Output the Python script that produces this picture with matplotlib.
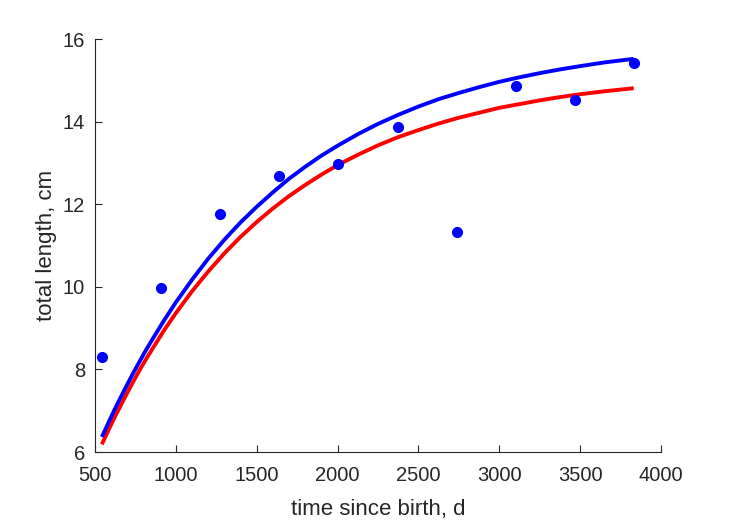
import matplotlib.pyplot as plt

plt.rcParams['font.family'] = ['Liberation Sans', 'DejaVu Sans']

# observed lengths
age_days = [543, 909, 1274, 1640, 2006, 2371, 2737, 3102, 3468, 3833]
length_cm = [8.30, 9.97, 11.76, 12.68, 12.97, 13.87, 11.33, 14.86, 14.52, 15.42]

# fitted growth curves
curve_t = [549, 587, 625, 662, 700, 737, 775, 812, 850, 925, 1000, 1100,
           1200, 1300, 1400, 1500, 1600, 1700, 1800, 1900, 2000, 2125, 2250,
           2375, 2500, 2625, 2750, 2875, 3000, 3125, 3250, 3375, 3500, 3650,
           3818]
fit_blue = [6.41, 6.73, 7.05, 7.34, 7.63, 7.91, 8.18, 8.44, 8.69, 9.17, 9.62,
            10.17, 10.68, 11.14, 11.56, 11.94, 12.29, 12.62, 12.91, 13.18,
            13.42, 13.70, 13.95, 14.17, 14.37, 14.55, 14.70, 14.84, 14.97,
            15.08, 15.18, 15.27, 15.35, 15.44, 15.52]
fit_red = [6.23, 6.55, 6.86, 7.14, 7.43, 7.70, 7.97, 8.22, 8.46, 8.93, 9.36,
           9.89, 10.37, 10.81, 11.21, 11.57, 11.90, 12.20, 12.47, 12.72,
           12.95, 13.20, 13.43, 13.63, 13.80, 13.96, 14.10, 14.22, 14.34,
           14.43, 14.52, 14.60, 14.67, 14.74, 14.81]

fig = plt.figure(figsize=(7.29, 5.21), dpi=100)
ax = fig.add_axes([0.130, 0.1324, 0.777, 0.7922])

ax.plot(curve_t, fit_red, color='red', linewidth=2.8)
ax.plot(curve_t, fit_blue, color='blue', linewidth=2.8)
ax.plot(age_days, length_cm, 'o', color='blue', markersize=7)

ax.set_xlim(500, 4000)
ax.set_ylim(6, 16)
ax.set_xticks(range(500, 4001, 500))
ax.set_yticks(range(6, 17, 2))

ax.set_xlabel('time since birth, d', fontsize=16, color='#262626', labelpad=10)
ax.set_ylabel('total length, cm', fontsize=16, color='#262626', labelpad=4)

for s in ['top', 'right']:
    ax.spines[s].set_visible(False)
for s in ['left', 'bottom']:
    ax.spines[s].set_color('#262626')
ax.tick_params(direction='in', length=5, colors='#262626', labelsize=14.5)
ax.tick_params(axis='x', pad=10)
ax.tick_params(axis='y', pad=7)

fig.savefig('out.png', dpi=100)
